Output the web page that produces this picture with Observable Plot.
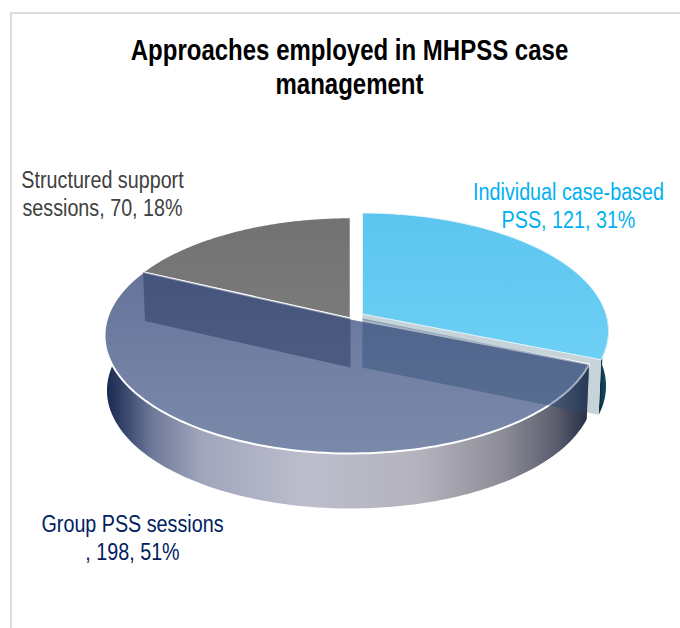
<!DOCTYPE html>
<html>
<head>
<meta charset="utf-8">
<script src="https://cdn.jsdelivr.net/npm/d3@7"></script>
<script src="https://cdn.jsdelivr.net/npm/@observablehq/plot@0.6"></script>
<style>
  html, body { margin: 0; padding: 0; background: #fff; }
  #page { position: relative; width: 680px; height: 628px; overflow: hidden; font-family: "Liberation Sans", sans-serif; }
  #frame { position: absolute; left: 10px; top: 12px; right: -4px; bottom: -4px; border: 2px solid #dcdcdc; }
  #title { position: absolute; left: 0; top: 33px; width: 699px; text-align: center; font-size: 30px; line-height: 34px; font-weight: bold; color: #000; transform: scaleX(0.8); transform-origin: 349.5px 0; }
  #chart { position: absolute; left: 0; top: 100px; }
</style>
</head>
<body>
<div id="page">
  <div id="frame"></div>
  <div id="title">Approaches employed in MHPSS case<br>management</div>
  <div id="chart"></div>
</div>
<script>
const categories = ["Individual case-based PSS", "Group PSS sessions", "Structured support sessions"];
const counts = [121, 198, 70];
const percents = [31, 51, 18];
const labelTexts = [
  "Individual case-based\nPSS, 121, 31%",
  "Group PSS sessions\n, 198, 51%",
  "Structured support\nsessions, 70, 18%"
];

const W = 680, H = 528, topOffset = 100;
const cx = 350, cy = 335, rx = 246, ry = 118;
const tilt = -0.144, depth = 55 / ry, wallDepth = 49 / ry, shrink = 0.99;

const arcs = d3.pie().sort(null).startAngle(0).endAngle(2 * Math.PI)(counts);
const [blue, group, gray] = arcs;

// Perspective view of the unit disc: the pie centre sits above the ellipse centre.
function rim(t, r = 1) {
  const a = r * Math.sin(t), b = -r * Math.cos(t);
  const w = 1 + tilt * b;
  return [a * Math.sqrt(1 - tilt * tilt) / w, (b + tilt) / w];
}
const steps = (t0, t1, n = 120) => d3.range(n + 1).map(i => t0 + (t1 - t0) * i / n);
const shift = (p, dx = 0, dy = 0) => [p[0] + dx, p[1] + dy];
const down = (p, h = depth) => [p[0] * shrink, p[1] + h];
const centre = rim(0, 0);

const explode = [12 / rx, -4.5 / ry];
const sector = (arc, dx = 0, dy = 0) =>
  [centre, ...steps(arc.startAngle, arc.endAngle).map(t => rim(t)), centre].map(p => shift(p, dx, dy));
const band = (t0, t1, dx = 0, dy = 0) => {
  const top = steps(t0, t1).map(t => rim(t));
  return [...top, ...top.slice().reverse().map(p => down(p))].map(p => shift(p, dx, dy));
};
const wall = (p, q, h = depth) => [p, q, down(q, h), down(p, h)];

const grayTop = sector(gray);
const blueTop = sector(blue, ...explode);
const blueRim = band(blue.endAngle - 0.42, blue.endAngle, ...explode);
const blueCut = wall(shift(centre, ...explode), shift(rim(blue.endAngle), ...explode));
const groupSide = band(group.startAngle, group.endAngle);
const groupTop = sector(group);
const wallGray = wall(rim(gray.startAngle), centre, wallDepth);
const wallBlue = wall(shift(centre, explode[0], 0), rim(blue.endAngle), wallDepth);

const poly = (pts, options) => Plot.line(pts, {x: d => d[0], y: d => d[1], ...options});

const gradients = () => {
  const g = document.createElementNS("http://www.w3.org/2000/svg", "defs");
  const lin = (id, x2, y2, stops) =>
    `<linearGradient id="${id}" x1="0" y1="0" x2="${x2}" y2="${y2}">` +
    stops.map(([o, c]) => `<stop offset="${o}" stop-color="${c}"/>`).join("") + `</linearGradient>`;
  g.innerHTML =
    lin("gSide", 1, 0, [[0, "#17264c"], [0.03, "#2e3c64"], [0.1, "#6f7a9a"], [0.2, "#a0a5bb"], [0.42, "#bcbecc"], [0.65, "#b4b3bd"], [0.82, "#8e8e98"], [0.93, "#5b5e6e"], [1, "#262e44"]]) +
    lin("gGroup", 0, 1, [[0, "#66739a"], [0.5, "#7280a4"], [1, "#7a89a9"]]) +
    lin("gBlue", 0, 1, [[0, "#5cc5ef"], [1, "#6dcff4"]]) +
    lin("gGray", 0, 1, [[0, "#727272"], [1, "#7a7a7a"]]) +
    lin("gTeal", 1, 0, [[0, "#0a2a3e"], [1, "#1c5a70"]]);
  return g;
};

const label = (text, color, left, top) =>
  Plot.text([text], {
    text: d => d, frameAnchor: "top-left", dx: left, dy: top - topOffset,
    textAnchor: "middle", lineAnchor: "top", lineHeight: 1.19,
    fontFamily: '"Liberation Sans", sans-serif',
    fontSize: 23.5, fill: color,
    className: "narrow"
  });

const chart = Plot.plot({
  width: W, height: H,
  margin: 0,
  x: {axis: null, domain: [(0 - cx) / rx, (W - cx) / rx], range: [0, W]},
  y: {axis: null, domain: [(topOffset - cy) / ry, (topOffset + H - cy) / ry], range: [0, H]},
  marks: [
    gradients,
    poly(grayTop, {fill: "url(#gGray)", stroke: "#fff", strokeWidth: 1.5}),
    poly(blueRim, {fill: "url(#gTeal)"}),
    poly(blueCut, {fill: "#c6d4da"}),
    poly(blueTop, {fill: "url(#gBlue)", stroke: "#e4f4fb", strokeWidth: 1}),
    poly(groupSide, {fill: "url(#gSide)"}),
    poly(groupTop, {fill: "url(#gGroup)", stroke: "#fff", strokeWidth: 2}),
    poly(wallGray, {fill: "#26365f", fillOpacity: 0.5}),
    poly(wallBlue, {fill: "#2c4a72", fillOpacity: 0.42}),
    label(labelTexts[2], "#404040", 102, 168),
    label(labelTexts[0], "#00b0f0", 568, 180),
    label(labelTexts[1], "#002060", 132, 512)
  ]
});
// Arial Narrow is not installed: condense the regular face to the same proportions.
chart.querySelectorAll("g.narrow text").forEach(t => {
  t.setAttribute("transform", `${t.getAttribute("transform") || ""} scale(0.84,1)`.trim());
});
document.getElementById("chart").appendChild(chart);
</script>
</body>
</html>
